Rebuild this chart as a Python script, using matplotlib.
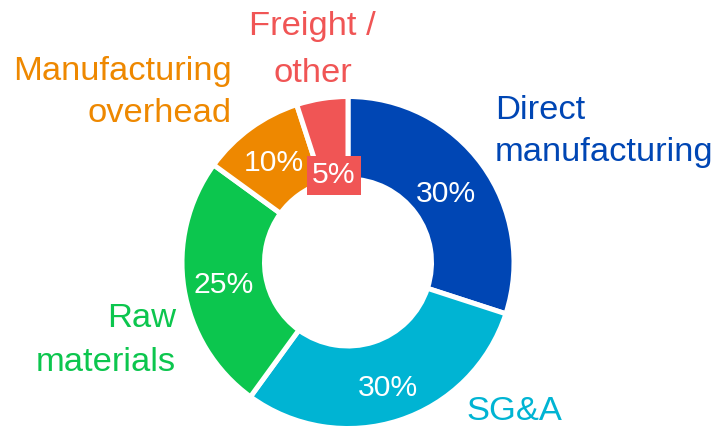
import matplotlib
matplotlib.use("Agg")
import matplotlib.pyplot as plt
import numpy as np

# ---- data ----
categories = ["Direct\nmanufacturing", "SG&A", "Raw\nmaterials",
              "Manufacturing\noverhead", "Freight /\nother"]
values = [30, 30, 25, 10, 5]
pct_labels = [f"{v}%" for v in values]
colors = ["#0046B4", "#00B4D3", "#0CC64E", "#EE8800", "#F05555"]

# ---- layout (pixel units, y measured from top) ----
W, H = 718, 426
CX, CY = 348, 262.5
R_VIS, R_IN = 163.5, 86
GAP_LW = 3.6  # points
pct_r = [121, 129, 126, 126, 91]
# label anchors: x, last-line baseline y, ha, linespacing
label_pos = [(495, 161, "left", 1.47),
             (466, 420, "left", 1.47),
             (176, 371, "right", 1.53),
             (232, 122.3, "right", 1.46),
             (312.5, 81.7, "center", 1.64)]

FONT = "Liberation Sans"
LABEL_FS = 24.8
PCT_FS = 21.7

fig = plt.figure(figsize=(W / 100, H / 100), dpi=100)
ax = fig.add_axes([0, 0, 1, 1])

half = GAP_LW / 72 * 100 / 2
R_draw = R_VIS + half
width = R_draw - (R_IN - half)
wedges, _ = ax.pie(values, colors=colors, startangle=90, counterclock=False,
                   radius=R_draw, center=(CX, H - CY),
                   wedgeprops=dict(width=width, edgecolor="white",
                                   linewidth=GAP_LW))
ax.set_xlim(0, W)
ax.set_ylim(0, H)
ax.set_aspect("equal")
ax.axis("off")

digit_half = 0.358 * PCT_FS * 100 / 72
for i, w in enumerate(wedges):
    ang = np.deg2rad((w.theta1 + w.theta2) / 2)
    x = CX + pct_r[i] * np.cos(ang)
    y = (H - CY) + pct_r[i] * np.sin(ang) - digit_half
    kw = {}
    if i == 4:
        kw["bbox"] = dict(boxstyle="square,pad=0.18", fc=colors[i], ec="none")
    ax.text(x, y, pct_labels[i], ha="center", va="baseline", color="white",
            fontsize=PCT_FS, family=FONT, zorder=5, **kw)

for i, (lx, ly, ha, ls) in enumerate(label_pos):
    ax.text(lx, H - ly, categories[i], ha=ha, va="baseline", multialignment=ha,
            color=colors[i], fontsize=LABEL_FS, family=FONT, linespacing=ls)

fig.savefig("out.png", dpi=100)
